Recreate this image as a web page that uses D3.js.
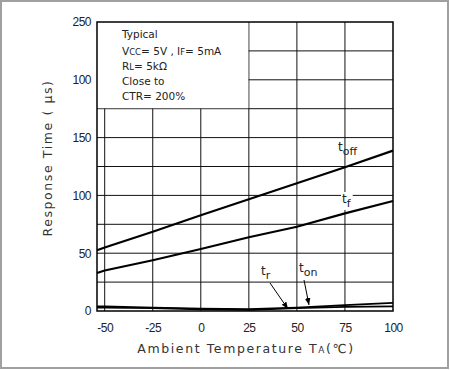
<!DOCTYPE html>
<html><head><meta charset="utf-8">
<script src="https://cdn.jsdelivr.net/npm/d3@7"></script>
<style>body{margin:0;background:#fff}svg{display:block}</style>
</head><body><svg id="c" width="450" height="370"></svg>
<script>
const temps = [-54, -50, -25, 0, 25, 50, 75, 100];
const tOff = [52.5, 55, 68.6, 82.8, 96.6, 110.5, 124.3, 138.7];
const tF   = [32.9, 35, 43.9, 53.6, 63.8, 72.9, 84.5, 95.2];
const tOn  = [4, 4, 3, 2, 1.5, 3, 5, 7];
const tR   = [3, 3, 2.5, 1.5, 1, 2.5, 3.5, 4];
const xTicks = [-50, -25, 0, 25, 50, 75, 100];
const xTickLabels = ["-50", "-25", "0", "25", "50", "75", "100"];
const yTicks = [0, 50, 100, 150, 200, 250];
const yTickLabels = ["0", "50", "100", "150", "100", "250"];
const yGrid = [25, 50, 75, 100, 125, 150, 175, 200, 225];
const xGrid = [-50, -25, 0, 25, 50, 75];

const svg = d3.select("#c");
svg.append("rect").attr("x",1).attr("y",1).attr("width",447).attr("height",367)
  .attr("fill","#fff").attr("stroke","#a0a0a0").attr("stroke-width",2);

const x = d3.scaleLinear().domain([-54, 100]).range([97, 393]);
const y = d3.scaleLinear().domain([0, 250]).range([311, 22]);

const g = svg.append("g");
// grid
g.selectAll(".hg").data(yGrid).join("line")
  .attr("x1", x(-54)).attr("x2", x(100)).attr("y1", d=>y(d)).attr("y2", d=>y(d))
  .attr("stroke", "#111").attr("stroke-width", 1);
g.selectAll(".vg").data(xGrid).join("line")
  .attr("x1", d=>x(d)).attr("x2", d=>x(d)).attr("y1", y(0)).attr("y2", y(250))
  .attr("stroke", "#111").attr("stroke-width", 1);
// legend box (blank area)
g.append("rect").attr("x", x(-54)).attr("y", y(250))
  .attr("width", x(25)-x(-54)-0.5).attr("height", y(175)-y(250)-0.5).attr("fill","#fff");

// curves
const line = d3.line().x((d,i)=>x(temps[i])).y(d=>y(d));
[tOff, tF, tOn, tR].forEach((s, k) => {
  g.append("path").attr("d", line(s)).attr("fill","none")
    .attr("stroke","#000").attr("stroke-width", k<2 ? 2.2 : 1.8);
});

// frame
g.append("rect").attr("x", x(-54)).attr("y", y(250))
  .attr("width", x(100)-x(-54)).attr("height", y(0)-y(250))
  .attr("fill","none").attr("stroke","#000").attr("stroke-width",1.5);

// axes
const fnt = "'Liberation Sans', Arial, sans-serif";
const ax = svg.append("g").attr("transform", `translate(0,${y(0)})`)
  .call(d3.axisBottom(x).tickValues(xTicks).tickSize(0).tickPadding(12)
    .tickFormat((d,i)=>xTickLabels[i]));
ax.select(".domain").remove();
ax.selectAll("text").attr("font-family", fnt).attr("font-size", 12).attr("fill","#222")
  .attr("letter-spacing", -0.5);
const ay = svg.append("g").attr("transform", `translate(${x(-54)},0)`)
  .call(d3.axisLeft(y).tickValues(yTicks).tickSize(0).tickPadding(6)
    .tickFormat((d,i)=>yTickLabels[i]));
ay.select(".domain").remove();
ay.selectAll("text").attr("font-family", fnt).attr("font-size", 12).attr("fill","#222")
  .attr("letter-spacing", -0.5);

// axis titles
const xt = svg.append("text").attr("x", 246).attr("y", 353).attr("text-anchor","middle")
  .attr("font-family", "'DejaVu Sans', sans-serif").attr("font-size", 12.5)
  .attr("letter-spacing", 1.6).attr("fill","#333");
xt.append("tspan").text("Ambient Temperature T");
xt.append("tspan").attr("font-size", 9).text("A");
xt.append("tspan").text("(℃)");
svg.append("text").attr("transform","translate(52,158) rotate(-90)").attr("text-anchor","middle")
  .attr("font-family", "'DejaVu Sans', sans-serif").attr("font-size", 12.5)
  .attr("letter-spacing", 1.6).attr("fill","#333").text("Response Time ( μs)");

// legend text
const lf = "'DejaVu Sans', sans-serif";
const leg = svg.append("g").attr("font-family", lf).attr("font-size", 10.5).attr("fill","#222");
leg.append("text").attr("x",122).attr("y",38).text("Typical");
const l2 = leg.append("text").attr("x",122).attr("y",55);
l2.append("tspan").text("V"); l2.append("tspan").attr("font-size",8.5).text("CC");
l2.append("tspan").text("= 5V , I"); l2.append("tspan").attr("font-size",8.5).text("F");
l2.append("tspan").text("= 5mA");
const l3 = leg.append("text").attr("x",122).attr("y",70);
l3.append("tspan").text("R"); l3.append("tspan").attr("font-size",8.5).text("L");
l3.append("tspan").text("= 5kΩ");
leg.append("text").attr("x",122).attr("y",85).text("Close to");
leg.append("text").attr("x",122).attr("y",100).text("CTR= 200%");

// curve labels
function lab(px, py, main, sub, bg) {
  const lg = svg.append("g");
  const bgr = lg.append("rect").attr("fill", "#fff");
  const t = lg.append("text").attr("x", px).attr("y", py)
    .attr("font-family", "'DejaVu Sans', sans-serif").attr("font-size", 12).attr("fill","#222");
  t.append("tspan").text(main);
  t.append("tspan").attr("dy", 4).attr("font-size", 11).text(sub);
  if (bg) {
    const b = t.node().getBBox();
    bgr.attr("x", b.x-1).attr("y", b.y).attr("width", b.width+2).attr("height", b.height);
  } else bgr.remove();
}
lab(338, 151, "t", "off", false);
lab(342, 203, "t", "f", true);
lab(261, 275, "t", "r", false);
lab(299, 272, "t", "on", false);

// arrows
svg.append("defs").append("marker").attr("id","ah").attr("viewBox","0 0 10 10")
  .attr("refX",10).attr("refY",5).attr("markerWidth",7).attr("markerHeight",7)
  .attr("orient","auto").append("path").attr("d","M0,1 L10,5 L0,9 Z").attr("fill","#000");
svg.append("line").attr("x1",270).attr("y1",283).attr("x2",288).attr("y2",309)
  .attr("stroke","#000").attr("stroke-width",1).attr("marker-end","url(#ah)");
svg.append("line").attr("x1",304).attr("y1",280).attr("x2",309).attr("y2",305)
  .attr("stroke","#000").attr("stroke-width",1).attr("marker-end","url(#ah)");
</script></body></html>
